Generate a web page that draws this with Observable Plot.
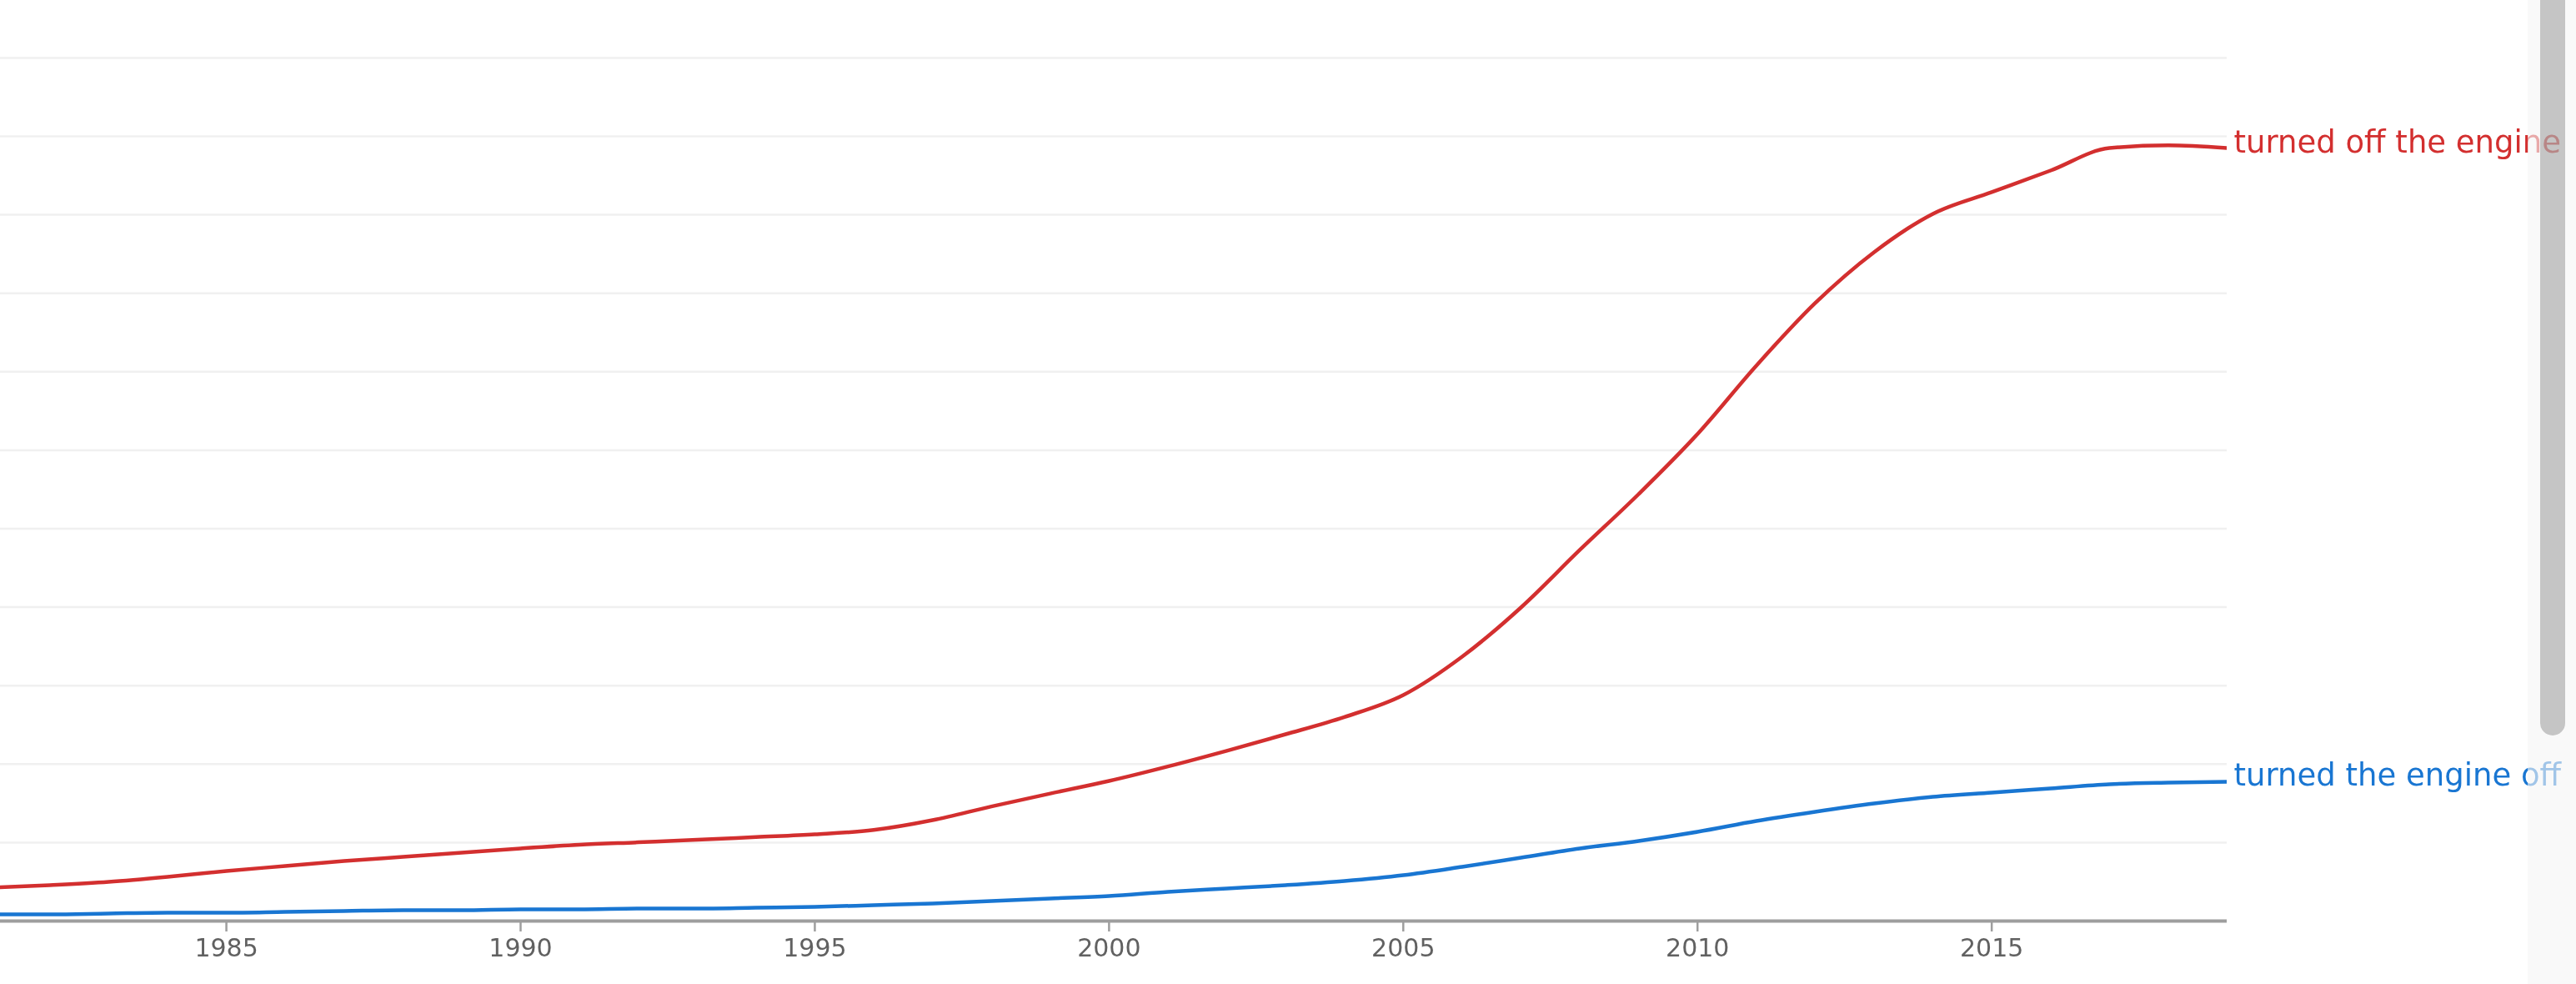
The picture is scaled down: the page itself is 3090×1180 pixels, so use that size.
<!DOCTYPE html>
<html>
<head>
<meta charset="utf-8">
<script src="https://cdn.jsdelivr.net/npm/d3@7"></script>
<script src="https://cdn.jsdelivr.net/npm/@observablehq/plot@0.6"></script>
<style>
  html, body { margin: 0; padding: 0; background: #ffffff; overflow: hidden; }
  #chart { position: absolute; left: 0; top: 0; }
  #track { position: absolute; left: 3032px; top: 0; width: 58px; height: 1180px; background: rgba(246,246,246,0.62); }
  #thumb { position: absolute; left: 3047px; top: -20px; width: 30px; height: 902px; border-radius: 15px; background: #cacaca; mix-blend-mode: multiply; }
</style>
</head>
<body>
<div id="chart"></div>
<div id="track"></div>
<div id="thumb"></div>
<script>
// Years (smoothed yearly frequencies, arbitrary units: one unit = one gridline step)
const years = [1981,1982,1983,1984,1985,1986,1987,1988,1989,1990,
               1991,1992,1993,1994,1995,1996,1997,1998,1999,2000,
               2001,2002,2003,2004,2005,2006,2007,2008,2009,2010,
               2011,2012,2013,2014,2015,2016,2017,2018,2019];

const turnedOffTheEngine = [0.425,0.457,0.499,0.563,0.638,0.701,0.765,0.818,0.871,0.925,
                            0.972,1.003,1.035,1.070,1.105,1.160,1.285,1.460,1.625,1.785,
                            1.970,2.170,2.380,2.600,2.880,3.369,3.996,4.729,5.441,6.206,
                            7.078,7.875,8.523,9.012,9.288,9.564,9.850,9.885,9.851];

const turnedTheEngineOff = [0.085,0.085,0.096,0.106,0.106,0.117,0.128,0.138,0.138,0.149,
                            0.149,0.159,0.159,0.170,0.181,0.202,0.223,0.255,0.287,0.319,
                            0.372,0.414,0.457,0.510,0.584,0.691,0.808,0.925,1.020,1.137,
                            1.275,1.392,1.498,1.583,1.637,1.690,1.743,1.764,1.775];

const seriesNames = ["turned off the engine", "turned the engine off"];
const seriesColors = ["#d32f2f", "#1976d2"];
const xTickYears = [1985, 1990, 1995, 2000, 2005, 2010, 2015];
const gridSteps = [1, 2, 3, 4, 5, 6, 7, 8, 9, 10, 11];

const seriesValues = [turnedOffTheEngine, turnedTheEngineOff];
const rows = seriesNames.flatMap((name, s) =>
  years.map((year, i) => ({ series: name, year, value: seriesValues[s][i] })));
const lastRows = seriesNames.map((name, s) =>
  ({ series: name, year: years[years.length - 1], value: seriesValues[s][years.length - 1] }));

const chart = Plot.plot({
  width: 3090,
  height: 1180,
  marginLeft: 0,
  marginRight: 419,
  marginTop: 0,
  marginBottom: 76,
  x: { domain: [1981.16, 2019], axis: null },
  y: { domain: [0, 11.732], axis: null },
  color: { domain: seriesNames, range: seriesColors },
  style: { background: "transparent", fontFamily: "'DejaVu Sans', sans-serif", overflow: "visible" },
  marks: [
    Plot.ruleY(gridSteps, { stroke: "#f0f0f0", strokeWidth: 2.5 }),
    Plot.axisX({
      ticks: xTickYears,
      tickFormat: d => String(d),
      tickSize: 13,
      tickPadding: 8,
      fontSize: 30,
      stroke: "#9e9e9e",
      strokeWidth: 2.5,
      fill: "#616161",
      label: null
    }),
    Plot.ruleY([0], { stroke: "#9e9e9e", strokeWidth: 4 }),
    Plot.line(rows, {
      x: "year", y: "value", z: "series", stroke: "series",
      curve: "monotone-x", strokeWidth: 4.5, strokeLinecap: "butt", clip: true
    }),
    Plot.text(lastRows, {
      x: "year", y: "value", text: "series", fill: "series",
      textAnchor: "start", lineAnchor: "bottom", dx: 8, dy: 5, fontSize: 37
    })
  ]
});

document.getElementById("chart").appendChild(chart);
</script>
</body>
</html>
